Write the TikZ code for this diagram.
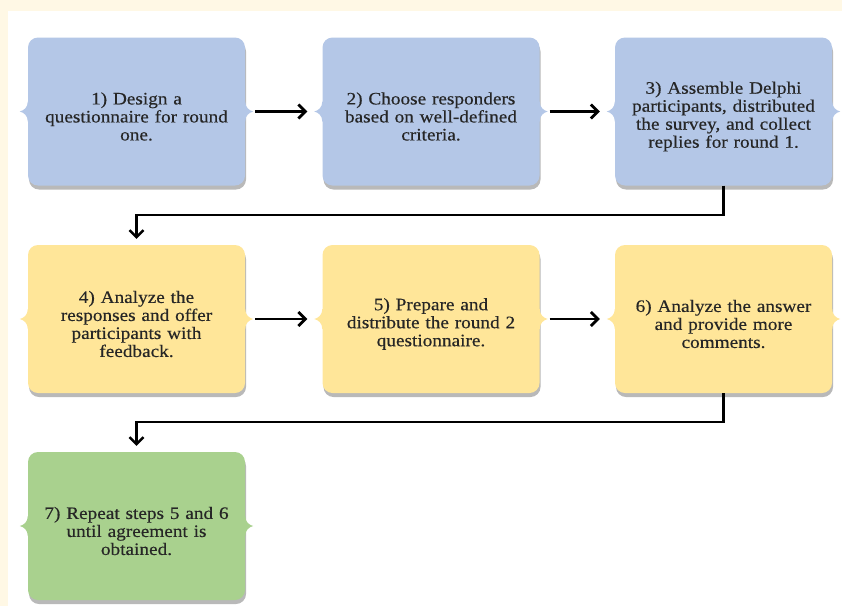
\documentclass[tikz,border=0pt]{standalone}
\usepackage{fontspec}
\setmainfont{Liberation Serif}[FakeStretch=1.1, FakeBold=0.4]
\usetikzlibrary{arrows.meta,shadows}
\definecolor{cream}{HTML}{FFF8E5}
\definecolor{stepblue}{HTML}{B4C7E7}
\definecolor{stepyellow}{HTML}{FFE699}
\definecolor{stepgreen}{HTML}{A9D18E}
\definecolor{steptext}{HTML}{262626}
\tikzset{
  stepbox/.style={fill=#1, rounded corners=10pt, minimum width=217pt, minimum height=148pt,
    text width=210pt, align=center, text=steptext, inner sep=0pt,
    font=\fontsize{17.5}{18}\selectfont,
    drop shadow={opacity=0.55, shadow xshift=1pt, shadow yshift=-4pt}},
  flow/.style={line width=2.8pt, -{Straight Barb[length=7pt,width=14pt]}},
}
\newcommand{\steptext}[1]{\raisebox{-5pt}[\height][\depth]{\parbox{210pt}{\centering #1}}}
\newcommand{\sidenotch}[2]{%
  \begin{scope}[shift={(#1.west)}]
    \fill[#2] (2,-10) -- (0,-10) .. controls (0,-4) and (-4,-1) .. (-8,0)
      .. controls (-4,1) and (0,4) .. (0,10) -- (2,10) -- cycle;
  \end{scope}
  \begin{scope}[shift={(#1.east)}, xscale=-1]
    \fill[#2] (2,-10) -- (0,-10) .. controls (0,-4) and (-4,-1) .. (-8,0)
      .. controls (-4,1) and (0,4) .. (0,10) -- (2,10) -- cycle;
  \end{scope}}
\begin{document}
\begin{tikzpicture}[x=1pt, y=-1pt]
\useasboundingbox (0,0) rectangle (842,606);
\fill[cream] (0,0) rectangle (842,606);
\fill[white] (8,11) rectangle (842,606);
% first round
\node[stepbox=stepblue] (s1) at (136.5,111.5) {\steptext{1) Design a\\ questionnaire for round\\ one.}};
\node[stepbox=stepblue] (s2) at (431,111.5) {\steptext{2) Choose responders\\ based on well-defined\\ criteria.}};
\node[stepbox=stepblue] (s3) at (723.5,111.5) {\steptext{3) Assemble Delphi\\ participants, distributed\\ the survey, and collect\\ replies for round 1.}};
% second round
\node[stepbox=stepyellow] (s4) at (136.5,319) {\steptext{4) Analyze the\\ responses and offer\\ participants with\\ feedback.}};
\node[stepbox=stepyellow] (s5) at (431,319) {\steptext{5) Prepare and\\ distribute the round 2\\ questionnaire.}};
\node[stepbox=stepyellow] (s6) at (723.5,319) {\steptext{6) Analyze the answer\\ and provide more\\ comments.}};
% repeat
\node[stepbox=stepgreen] (s7) at (136.5,526) {\steptext{7) Repeat steps 5 and 6\\ until agreement is\\ obtained.}};
\foreach \n/\c in {s1/stepblue,s2/stepblue,s3/stepblue,s4/stepyellow,s5/stepyellow,s6/stepyellow,s7/stepgreen}
  \sidenotch{\n}{\c};
\draw[flow, shorten <=10pt, shorten >=15pt] (s1.east) -- (s2.west);
\draw[flow, shorten <=10pt, shorten >=15pt] (s2.east) -- (s3.west);
\draw[flow, shorten <=10pt, shorten >=15pt] (s4.east) -- (s5.west);
\draw[flow, shorten <=10pt, shorten >=15pt] (s5.east) -- (s6.west);
\draw[flow, line width=2.4pt, shorten >=6pt] (s3.south) -- ++(0,29) -| (s4.north);
\draw[flow, line width=2.4pt, shorten >=6pt] (s6.south) -- ++(0,29) -| (s7.north);
\end{tikzpicture}
\end{document}
